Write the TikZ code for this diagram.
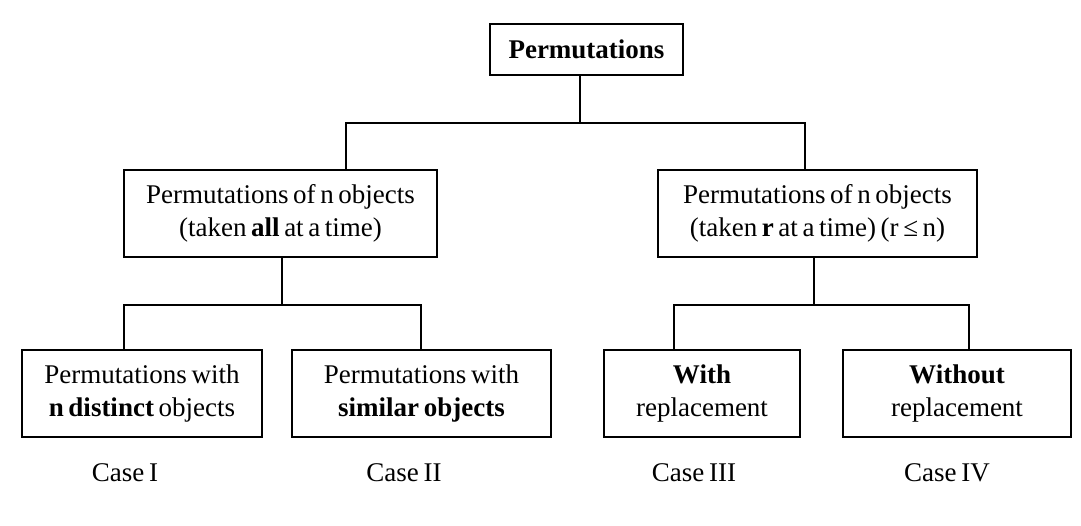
\documentclass[tikz,border=0pt]{standalone}
\usepackage{fontspec}
\setmainfont{Liberation Serif}
\newcommand{\boxfont}{\fontsize{13.5}{16.5}\selectfont\spaceskip=0.17em plus 0.05em minus 0.02em\relax}
\tikzset{
  box/.style={draw, line width=1pt, rectangle, align=center, inner sep=0pt,
    minimum height=43.5pt, font=\boxfont},
  caselabel/.style={font=\boxfont},
  link/.style={line width=1pt}
}
\begin{document}
\begin{tikzpicture}[x=0.5pt, y=-0.5pt]
  \useasboundingbox (0,0) rectangle (1081,525);
  % Các hộp
  \node[box, minimum width=96.5pt, minimum height=25.5pt] (perm) at (586.5,49.5) {\textbf{Permutations}};
  \node[box, minimum width=156.5pt] (allN) at (280.5,213.5) {Permutations of n objects\\(taken \textbf{all} at a time)};
  \node[box, minimum width=159.5pt] (rN) at (817.5,213.5) {Permutations of n objects\\(taken \textbf{r} at a time) (r ≤ n)};
  \node[box, minimum width=120pt] (distinct) at (142,393.5) {Permutations with\\\textbf{n distinct} objects};
  \node[box, minimum width=129.5pt] (similar) at (421.5,393.5) {Permutations with\\\textbf{similar objects}};
  \node[box, minimum width=98pt] (withR) at (702,393.5) {\textbf{With}\\replacement};
  \node[box, minimum width=114pt] (withoutR) at (957,393.5) {\textbf{Without}\\replacement};
  % Các điểm nối
  \coordinate (j0) at (580,123);
  \coordinate (j0L) at (346,123);
  \coordinate (j0R) at (805,123);
  \coordinate (j1) at (282,305);
  \coordinate (j1L) at (124,305);
  \coordinate (j1R) at (421,305);
  \coordinate (j2) at (814,305);
  \coordinate (j2L) at (674,305);
  \coordinate (j2R) at (969,305);
  % Các đường nối
  \draw[link] (j0 |- perm.south) -- (j0);
  \draw[link] (j0L |- allN.north) -- (j0L) -- (j0R) -- (j0R |- rN.north);
  \draw[link] (j1 |- allN.south) -- (j1);
  \draw[link] (j1L |- distinct.north) -- (j1L) -- (j1R) -- (j1R |- similar.north);
  \draw[link] (j2 |- rN.south) -- (j2);
  \draw[link] (j2L |- withR.north) -- (j2L) -- (j2R) -- (j2R |- withoutR.north);
  % Ghi chú
  \node[caselabel] (case1) at (125,473) {Case I};
  \node[caselabel] (case2) at (404,473) {Case II};
  \node[caselabel] (case3) at (694,473) {Case III};
  \node[caselabel] (case4) at (947,473) {Case IV};
\end{tikzpicture}
\end{document}
